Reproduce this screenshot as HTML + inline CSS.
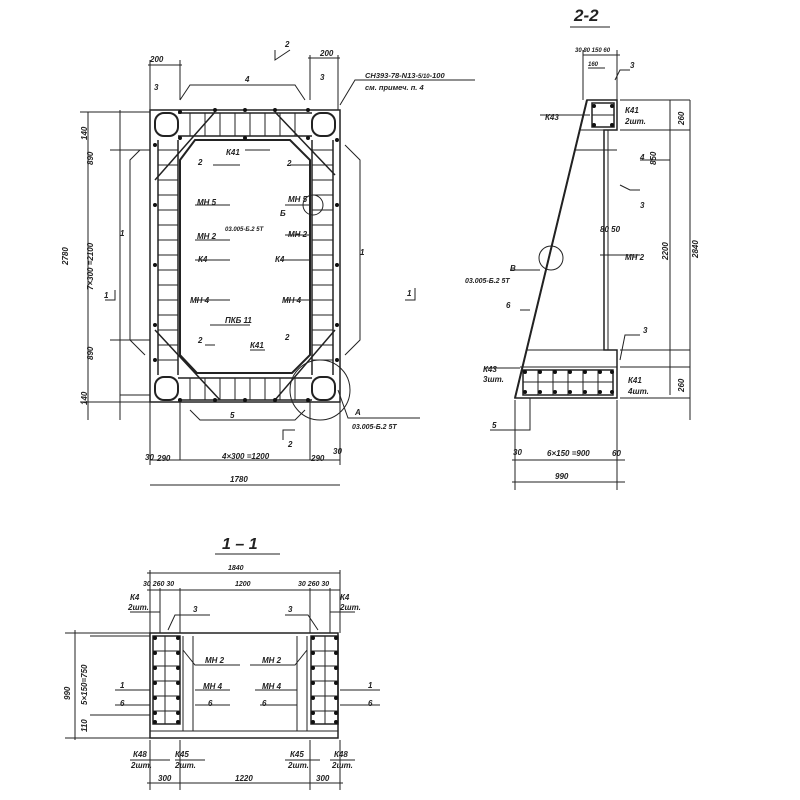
<!DOCTYPE html>
<html><head><meta charset="utf-8"><style>
html,body{margin:0;padding:0;background:#fff}
svg{display:block;font-size:8px}
text{font-family:"Liberation Sans",sans-serif;font-style:italic;font-weight:bold;fill:#222}
.l{stroke:#222;stroke-width:1;fill:none}
.t{stroke:#222;stroke-width:2;fill:none}
.m{stroke:#222;stroke-width:1.5;fill:none}
.d{fill:#111}
</style></head><body>
<svg width="800" height="800" viewBox="0 0 800 800" xmlns="http://www.w3.org/2000/svg">
<!-- ===== PLAN VIEW ===== -->
<rect x="150" y="110" width="190" height="292" class="m"/>
<path d="M195 140 L290 140 L310 160 L310 355 L292 373 L197 373 L180 355 L180 160 Z" class="t"/>
<path d="M178 113 L312 113 M178 136 L312 136" class="m"/>
<path d="M178 378 L312 378 M178 400 L312 400" class="m"/>
<rect x="155" y="113" width="23" height="23" rx="9" class="t"/>
<rect x="312" y="113" width="23" height="23" rx="9" class="t"/>
<rect x="155" y="377" width="23" height="23" rx="9" class="t"/>
<rect x="312" y="377" width="23" height="23" rx="9" class="t"/>
<path d="M158 140 L158 375 M178 140 L178 375 M312 140 L312 375 M333 140 L333 375" class="m"/>
<g class="l">
<path d="M158 150H178M158 165H178M158 180H178M158 195H178M158 210H178M158 225H178M158 240H178M158 255H178M158 270H178M158 285H178M158 300H178M158 315H178M158 330H178M158 345H178M158 360H178"/>
<path d="M312 150H333M312 165H333M312 180H333M312 195H333M312 210H333M312 225H333M312 240H333M312 255H333M312 270H333M312 285H333M312 300H333M312 315H333M312 330H333M312 345H333M312 360H333"/>
<path d="M190 113V136M205 113V136M220 113V136M235 113V136M250 113V136M265 113V136M280 113V136M295 113V136"/>
<path d="M190 378V400M205 378V400M220 378V400M235 378V400M250 378V400M265 378V400M280 378V400M295 378V400"/>
</g>
<path d="M155 180 L215 112 M275 112 L335 175 M155 330 L220 400 M275 400 L335 330" class="m"/>
<g class="d">
<circle cx="180" cy="112" r="2"/><circle cx="215" cy="110" r="2"/><circle cx="245" cy="110" r="2"/><circle cx="275" cy="110" r="2"/><circle cx="308" cy="110" r="2"/>
<circle cx="180" cy="138" r="2"/><circle cx="245" cy="138" r="2"/><circle cx="308" cy="138" r="2"/>
<circle cx="180" cy="400" r="2"/><circle cx="215" cy="400" r="2"/><circle cx="245" cy="400" r="2"/><circle cx="275" cy="400" r="2"/><circle cx="308" cy="400" r="2"/>
<circle cx="155" cy="145" r="2"/><circle cx="155" cy="205" r="2"/><circle cx="155" cy="265" r="2"/><circle cx="155" cy="325" r="2"/><circle cx="155" cy="360" r="2"/>
<circle cx="337" cy="140" r="2"/><circle cx="337" cy="205" r="2"/><circle cx="337" cy="265" r="2"/><circle cx="337" cy="325" r="2"/><circle cx="337" cy="360" r="2"/>
</g>
<g class="l">
<path d="M150 112 L80 112 M150 402 L80 402 M88 112V420 M120 110V420 M110 150H150 M110 340H150 M120 395 H150"/>
<path d="M140 150 L130 160 L130 340 L145 355 M345 145 L360 160 L360 340 L345 355"/>
<path d="M150 400 V465 M340 400 V465 M150 485 H340 M150 460 H340 M180 400V460 M310 400V460"/>
<path d="M150 60 L150 110 M180 60 L180 100 M148 65 H182 M310 55 V100 M338 55 V110 M308 58 H340"/>
<path d="M180 100 L190 85 L295 85 L305 100"/>
<path d="M190 410 L200 420 L295 420 L305 410"/>
<path d="M275 50 L275 60 L290 50 M283 440 L283 430 L295 430 M405 300 L415 300 L415 288 M105 300 L115 300 L115 290"/>
<path d="M340 105 L355 80 L475 80 M338 390 L348 418 L420 418"/>
<circle cx="320" cy="390" r="30"/><circle cx="313" cy="205" r="10"/>
<path d="M213 165H240M195 205H230M195 240H230M195 260H230M195 300H230M210 325H250M290 165H310M285 205H310M285 235H310M280 260H310M285 300H310M245 150H270M250 350H265M205 345H215"/>
</g>
<text x="150" y="62">200</text><text x="320" y="56">200</text>
<text x="245" y="82">4</text><text x="154" y="90">3</text><text x="320" y="80">3</text>
<text x="285" y="47">2</text><text x="288" y="447">2</text>
<text x="365" y="78" font-size="7.5">СН393-78-N13-<tspan font-size="6">5/10</tspan>-100</text>
<text x="365" y="90" font-size="7.5">см. примеч. п. 4</text>
<text x="226" y="155">К41</text><text x="287" y="166">2</text><text x="198" y="165">2</text>
<text x="197" y="205">МН 5</text><text x="288" y="202">МН 5</text>
<text x="280" y="216">Б</text><text x="225" y="231" font-size="6">03.005-Б.2 5Т</text>
<text x="197" y="239">МН 2</text><text x="288" y="237">МН 2</text>
<text x="198" y="262">К4</text><text x="275" y="262">К4</text>
<text x="190" y="303">МН 4</text><text x="282" y="303">МН 4</text>
<text x="225" y="323">ПКБ 11</text><text x="250" y="348">К41</text>
<text x="198" y="343">2</text><text x="285" y="340">2</text>
<text x="230" y="418">5</text><text x="120" y="236">1</text><text x="360" y="255">1</text>
<text x="104" y="298">1</text><text x="407" y="296">1</text>
<text x="355" y="415">А</text><text x="352" y="429" font-size="7">03.005-Б.2 5Т</text>
<text x="145" y="460">30</text><text x="157" y="461">290</text><text x="222" y="459">4×300 =1200</text>
<text x="311" y="461">290</text><text x="333" y="454">30</text><text x="230" y="482">1780</text>
<text transform="translate(68,265) rotate(-90)">2780</text>
<text transform="translate(93,290) rotate(-90)">7×300 =2100</text>
<text transform="translate(93,165) rotate(-90)">890</text>
<text transform="translate(93,360) rotate(-90)">890</text>
<text transform="translate(87,140) rotate(-90)">140</text>
<text transform="translate(87,405) rotate(-90)">140</text>
<!-- ===== SECTION 2-2 ===== -->
<text x="574" y="21" font-size="17" font-style="normal" font-weight="normal">2-2</text>
<path d="M570 27 H610" class="l"/>
<path d="M587 100 L617 100 L617 130 L604 130 L604 350 L617 350 L617 398 L515 398 Z" class="m"/>
<path d="M587 100 L515 398" class="t"/>
<path d="M580 130 L617 130 M575 150 H617 M527 350 H617 M520 367 H617 M608 130 V350" class="l"/>
<rect x="592" y="103" width="22" height="24" class="m"/>
<rect x="523" y="370" width="90" height="25" class="m"/>
<g class="l"><path d="M538 370V395M553 370V395M568 370V395M583 370V395M598 370V395M523 382H613M592 115H614"/></g>
<g class="d"><circle cx="594" cy="106" r="2"/><circle cx="612" cy="106" r="2"/><circle cx="594" cy="125" r="2"/><circle cx="612" cy="125" r="2"/>
<circle cx="525" cy="372" r="2"/><circle cx="540" cy="372" r="2"/><circle cx="555" cy="372" r="2"/><circle cx="570" cy="372" r="2"/><circle cx="585" cy="372" r="2"/><circle cx="600" cy="372" r="2"/><circle cx="612" cy="372" r="2"/>
<circle cx="525" cy="392" r="2"/><circle cx="540" cy="392" r="2"/><circle cx="555" cy="392" r="2"/><circle cx="570" cy="392" r="2"/><circle cx="585" cy="392" r="2"/><circle cx="600" cy="392" r="2"/><circle cx="612" cy="392" r="2"/></g>
<g class="l">
<path d="M583 50 V100 M617 50 V100 M583 55 H620 M588 68 H605 M620 100 H690 M620 130 H690 M670 100 V395 M690 100 V420 M640 160 H670 M620 350 H690 M620 367 H690 M620 398 H690"/>
<path d="M515 400 V490 M617 400 V490 M512 460 H625 M512 482 H625"/>
<path d="M540 115 H590 M615 80 L620 70 L630 70 M620 185 L630 190 L640 190 M600 255 H640 M510 270 H540 M520 310 H530 M485 368 H520 M620 360 L625 335 L640 335 M530 398 V430 L490 430"/>
<circle cx="551" cy="258" r="12"/>
</g>
<text x="575" y="52" font-size="6">30 80 150 60</text><text x="588" y="66" font-size="6">160</text>
<text x="630" y="68">3</text><text x="545" y="120">К43</text>
<text x="625" y="113">К41</text><text x="625" y="124">2шт.</text>
<text x="640" y="160">4</text><text x="640" y="208">3</text>
<text x="600" y="232">80 50</text><text x="625" y="260">МН 2</text>
<text x="510" y="271">В</text><text x="465" y="283" font-size="7">03.005-Б.2 5Т</text>
<text x="506" y="308">6</text><text x="643" y="333">3</text>
<text x="483" y="372">К43</text><text x="483" y="382">3шт.</text>
<text x="628" y="383">К41</text><text x="628" y="394">4шт.</text>
<text x="492" y="428">5</text>
<text x="513" y="455">30</text><text x="547" y="456">6×150 =900</text><text x="612" y="456">60</text>
<text x="555" y="479">990</text>
<text transform="translate(668,260) rotate(-90)">2200</text>
<text transform="translate(698,258) rotate(-90)">2840</text>
<text transform="translate(656,165) rotate(-90)">850</text>
<text transform="translate(684,125) rotate(-90)">260</text>
<text transform="translate(684,392) rotate(-90)">260</text>
<!-- ===== SECTION 1-1 ===== -->
<text x="222" y="549" font-size="16" font-style="normal" font-weight="normal">1 – 1</text>
<path d="M215 554 H280" class="l"/>
<rect x="150" y="633" width="188" height="105" class="m"/>
<path d="M150 731 H338" class="l"/>
<rect x="153" y="636" width="27" height="88" class="m"/>
<rect x="311" y="636" width="27" height="88" class="m"/>
<g class="l"><path d="M153 651H180M153 666H180M153 681H180M153 696H180M153 711H180M311 651H338M311 666H338M311 681H338M311 696H338M311 711H338M165 636V724M325 636V724"/>
<path d="M183 636V731M193 636V731M297 636V731M307 636V731"/></g>
<g class="d"><circle cx="155" cy="638" r="2"/><circle cx="178" cy="638" r="2"/><circle cx="155" cy="653" r="2"/><circle cx="178" cy="653" r="2"/><circle cx="155" cy="668" r="2"/><circle cx="178" cy="668" r="2"/><circle cx="155" cy="683" r="2"/><circle cx="178" cy="683" r="2"/><circle cx="155" cy="698" r="2"/><circle cx="178" cy="698" r="2"/><circle cx="155" cy="713" r="2"/><circle cx="178" cy="713" r="2"/><circle cx="155" cy="722" r="2"/><circle cx="178" cy="722" r="2"/>
<circle cx="313" cy="638" r="2"/><circle cx="336" cy="638" r="2"/><circle cx="313" cy="653" r="2"/><circle cx="336" cy="653" r="2"/><circle cx="313" cy="668" r="2"/><circle cx="336" cy="668" r="2"/><circle cx="313" cy="683" r="2"/><circle cx="336" cy="683" r="2"/><circle cx="313" cy="698" r="2"/><circle cx="336" cy="698" r="2"/><circle cx="313" cy="713" r="2"/><circle cx="336" cy="713" r="2"/><circle cx="313" cy="722" r="2"/><circle cx="336" cy="722" r="2"/></g>
<g class="l">
<path d="M147 573 H340 M150 570V633 M340 570V633 M147 590 H340 M160 588V633 M180 588V633 M310 588V633 M330 588V633"/>
<path d="M65 633H150 M65 738H150 M75 630V740 M90 636H150 M90 715H150"/>
<path d="M130 612H160 M330 612H355 M168 630 L175 615 L210 615 M318 630 L308 615 L285 615"/>
<path d="M183 650 L195 665 L240 665 M307 650 L295 665 L250 665 M115 690H150 M195 690H230 M255 690H297 M340 690H380 M115 705H150 M195 705H230 M260 705H297 M340 705H380"/>
<path d="M150 740V790 M180 740V790 M310 740V790 M340 740V790 M130 760H170 M175 760H205 M285 760H320 M330 760H355 M147 783H343"/>
</g>
<text x="228" y="570" font-size="7">1840</text>
<text x="143" y="586" font-size="7">30 260 30</text><text x="235" y="586" font-size="7">1200</text><text x="298" y="586" font-size="7">30 260 30</text>
<text x="130" y="600">К4</text><text x="128" y="610">2шт.</text>
<text x="340" y="600">К4</text><text x="340" y="610">2шт.</text>
<text x="193" y="612">3</text><text x="288" y="612">3</text>
<text x="205" y="663">МН 2</text><text x="262" y="663">МН 2</text>
<text x="203" y="689">МН 4</text><text x="262" y="689">МН 4</text>
<text x="120" y="688">1</text><text x="368" y="688">1</text>
<text x="120" y="706">6</text><text x="208" y="706">6</text><text x="262" y="706">6</text><text x="368" y="706">6</text>
<text x="133" y="757">К48</text><text x="131" y="768">2шт.</text>
<text x="175" y="757">К45</text><text x="175" y="768">2шт.</text>
<text x="290" y="757">К45</text><text x="288" y="768">2шт.</text>
<text x="334" y="757">К48</text><text x="332" y="768">2шт.</text>
<text x="158" y="781">300</text><text x="235" y="781">1220</text><text x="316" y="781">300</text>
<text transform="translate(70,700) rotate(-90)">990</text>
<text transform="translate(87,705) rotate(-90)">5×150=750</text>
<text transform="translate(87,732) rotate(-90)">110</text>
</svg>
</body></html>
